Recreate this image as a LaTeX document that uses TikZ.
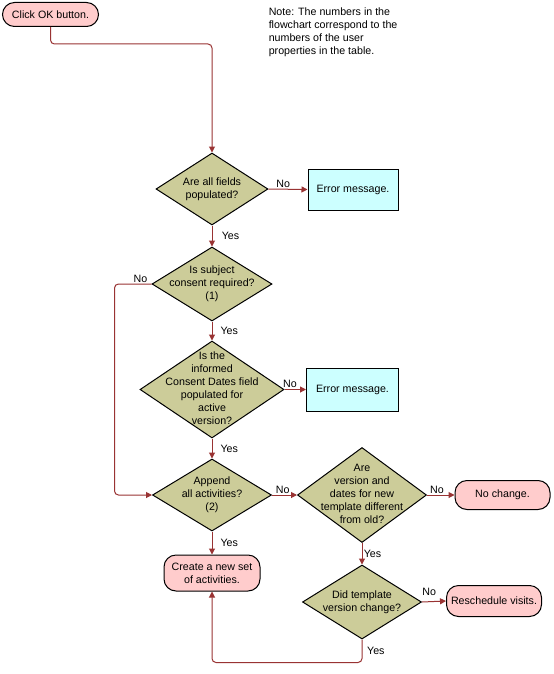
\documentclass[tikz,border=0pt]{standalone}
\usepackage{fontspec}
\setmainfont{Liberation Sans}
\usetikzlibrary{arrows.meta,shapes.geometric}
\definecolor{termfill}{HTML}{FFCCCC}
\definecolor{decfill}{HTML}{CCCC99}
\definecolor{errfill}{HTML}{CCFFFF}
\definecolor{linecol}{HTML}{993333}
\newcommand\dtxt[1]{\makebox[0pt]{\raisebox{-2pt}[0pt][0pt]{\begin{tabular}{@{}c@{}}#1\end{tabular}}}}
\begin{document}
\begin{tikzpicture}[x=0.75pt,y=-0.75pt,
  every node/.style={font=\fontsize{8}{9.75}\selectfont},
  term/.style={draw=black, line width=0.75pt, fill=termfill, rounded corners=9pt, inner sep=1pt, align=center},
  dec/.style={diamond, draw=black, line width=0.75pt, fill=decfill, inner sep=0pt},
  errbox/.style={rectangle, draw=black, line width=0.75pt, fill=errfill, inner sep=1pt},
  conn/.style={draw=linecol, line width=0.75pt, rounded corners=3pt, -{Triangle[length=4.5pt,width=4.5pt]}},
  lbl/.style={inner sep=1pt, text=black}]
\useasboundingbox (0,0) rectangle (553,674);
\fill[white] (0,0) rectangle (553,674);

\node[term, minimum width=72pt, minimum height=18pt] (t0) at (50.5,14.5) {Click OK button.};
\node[anchor=north west, align=left, inner sep=0pt] (note) at (268.5,7.5) {Note: The numbers in the\\flowchart correspond to the\\numbers of the user\\properties in the table.};

\node[dec, minimum width=84pt, minimum height=54pt] (d1) at (212,189) {\dtxt{Are all fields\\populated?}};
\node[errbox, minimum width=67.5pt, minimum height=30.75pt] (e1) at (353,189.5) {Error message.};
\node[dec, minimum width=90pt, minimum height=55.5pt] (d2) at (212,284) {\dtxt{Is subject\\consent required?\\(1)}};
\node[dec, minimum width=108pt, minimum height=72.75pt] (d3) at (212,389.5) {\dtxt{Is the\\informed\\Consent Dates field\\populated for\\active\\version?}};
\node[errbox, minimum width=69pt, minimum height=32.25pt] (e2) at (352.5,389.5) {Error message.};
\node[dec, minimum width=89.25pt, minimum height=54pt] (d4) at (212,495) {\dtxt{Append\\all activities?\\(2)}};
\node[dec, minimum width=96.75pt, minimum height=71.25pt] (d5) at (362,495) {\dtxt{Are\\version and\\dates for new\\template different\\from old?}};
\node[term, minimum width=71.25pt, minimum height=21.75pt] (nc) at (502.5,495) {No change.};
\node[term, minimum width=72pt, minimum height=27pt] (cr) at (212,573) {Create a new set\\of activities.};
\node[dec, minimum width=89.25pt, minimum height=55.5pt] (d6) at (362,602) {\dtxt{Did template\\version change?}};
\node[term, minimum width=71.25pt, minimum height=23.25pt] (rs) at (494,601) {Reschedule visits.};

\draw[conn] (t0.south) -- ++(0,17) -| (d1.north);
\draw[conn] (d1.east) -- node[lbl, above, pos=0.375] {No} (e1.west);
\draw[conn] (d1.south) -- node[lbl, right, xshift=6pt] {Yes} (d2.north);
\draw[conn] (d2.west) -- node[lbl, above, pos=0.3] {No} ++(-37,0) |- (d4.west);
\draw[conn] (d2.south) -- node[lbl, right, xshift=5pt] {Yes} (d3.north);
\draw[conn] (d3.east) -- node[lbl, above, pos=0.25] {No} (e2.west);
\draw[conn] (d3.south) -- node[lbl, right, xshift=5pt] {Yes} (d4.north);
\draw[conn] (d4.east) -- node[lbl, above, pos=0.43] {No} (d5.west);
\draw[conn] (d4.south) -- node[lbl, right, xshift=5pt] {Yes} (cr.north);
\draw[conn] (d5.east) -- node[lbl, above, pos=0.36] {No} (nc.west);
\draw[conn] (d5.south) -- node[lbl, right, xshift=0pt] {Yes} (d6.north);
\draw[conn] (d6.east) -- node[lbl, above, pos=0.3, yshift=3pt] {No} (rs.west);
\draw[conn] (d6.south) -- node[lbl, right, xshift=2.5pt] {Yes} ++(0,23) -| (cr.south);
\end{tikzpicture}
\end{document}
